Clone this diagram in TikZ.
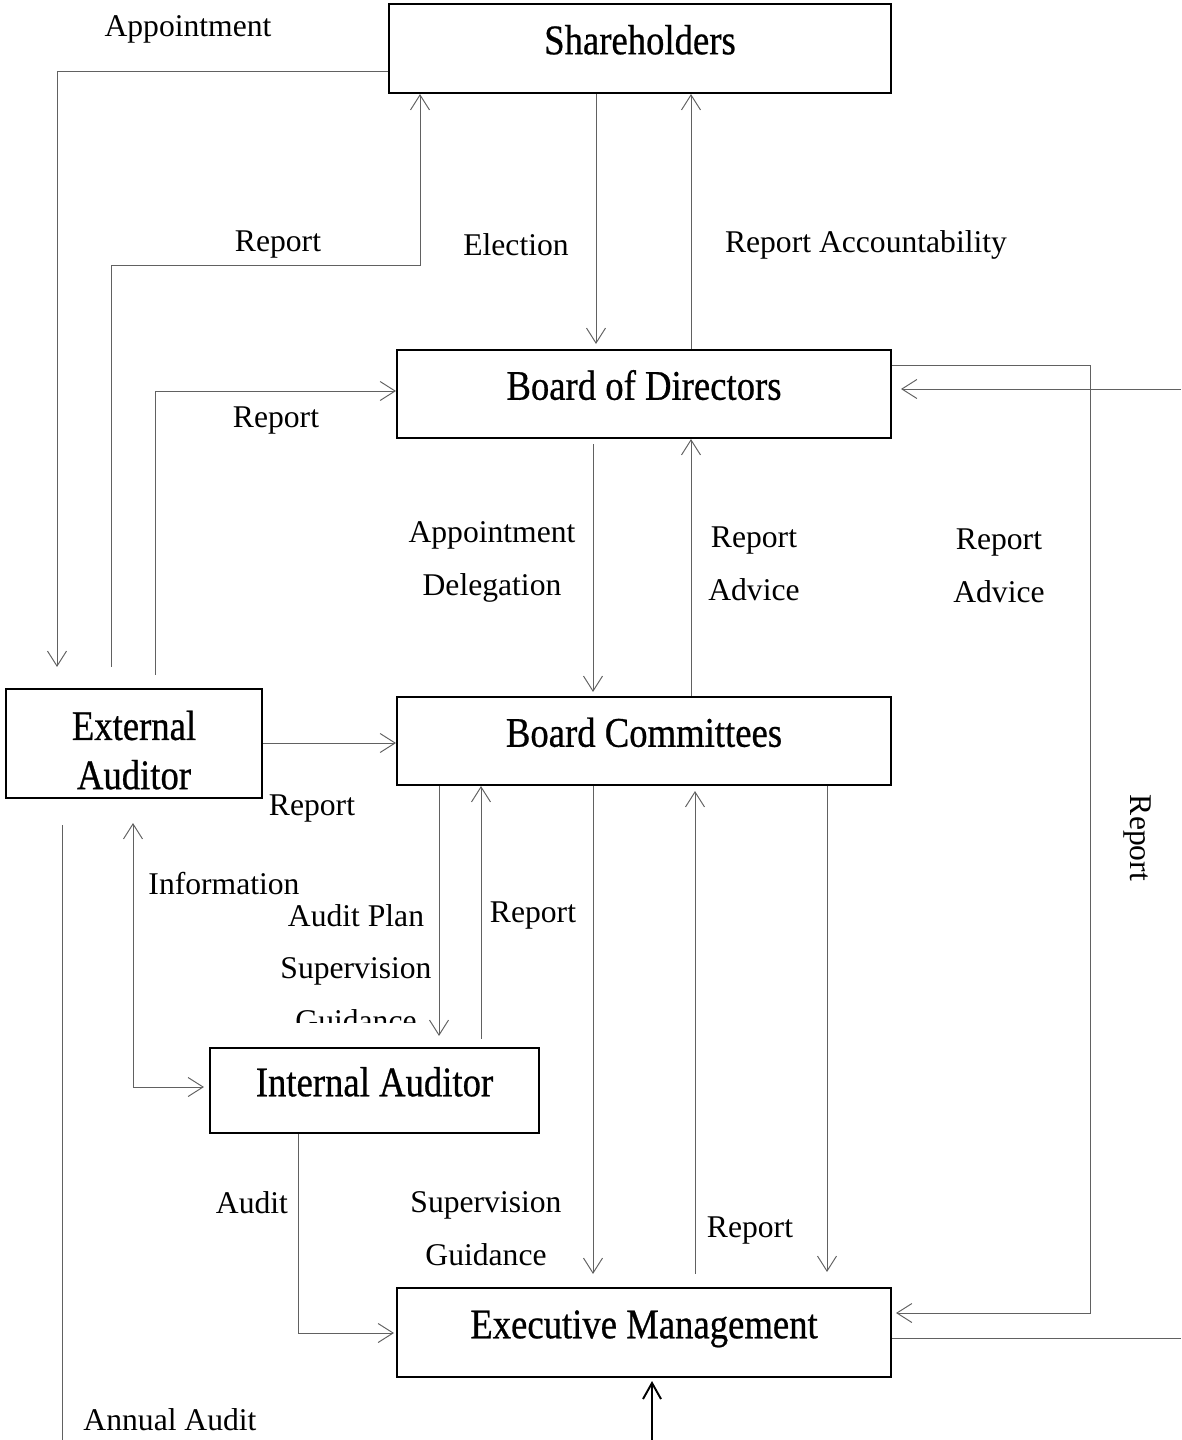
\documentclass[tikz,border=0pt]{standalone}
\usepackage{fontspec}
\setmainfont{Liberation Serif}
\newfontfamily\boxfont{Liberation Serif}[FakeBold=0.6, FakeStretch=0.87]
\usetikzlibrary{arrows.meta}
\tikzset{
  box/.style={draw, line width=1.2pt, inner sep=0pt, font=\fontsize{24}{28}\boxfont},
  raised/.style={text height=0.5cm, text depth=0.27cm},
  flow/.style={draw=black!62, line width=0.55pt, -{Straight Barb[length=0.3cm,width=0.38cm]}},
  bigflow/.style={draw=black, line width=1.1pt, -{Straight Barb[length=0.32cm,width=0.36cm]}},
  lbl/.style={font=\fontsize{18}{20}\selectfont, inner sep=0pt, yshift=-0.06cm}
}
\begin{document}
\begin{tikzpicture}[x=0.02cm, y=-0.02cm]
  \useasboundingbox (0,0) rectangle (1181,1440);
  % boxes
  \node[box, raised, minimum width=10.04cm, minimum height=1.78cm] (share) at (640,48.5) {Shareholders};
  \node[box, raised, minimum width=9.88cm, minimum height=1.76cm] (bod) at (644,394) {Board of Directors};
  \node[box, raised, minimum width=9.88cm, minimum height=1.76cm] (comm) at (644,741) {Board Committees};
  \node[box, minimum width=5.12cm, minimum height=2.18cm, align=center] (ext) at (134,743.5) {\rule{0pt}{0.85cm}External\\Auditor};
  \node[box, raised, minimum width=6.58cm, minimum height=1.7cm] (ia) at (374.5,1090.5) {Internal Auditor};
  \node[box, raised, minimum width=9.88cm, minimum height=1.78cm] (exec) at (644,1332.5) {Executive Management};
  % free ends at the edges
  \coordinate (edgeTop) at (1181,389);
  \coordinate (edgeBot) at (1181,1338);
  \coordinate (annTop) at (62,825);
  \coordinate (annBot) at (62,1440);
  \coordinate (mgmtIn) at (652,1440);
  % shareholders level
  \draw[flow, shorten >=0.42cm] (share.west |- 0,71) -| (ext.north -| 57,0);
  \draw[flow, shorten <=0.42cm] (ext.north -| 111,0) |- (420,265) -- (share.south -| 420,0);
  \draw[flow, shorten >=0.1cm] (share.south -| 596,0) -- (bod.north -| 596,0);
  \draw[flow] (bod.north -| 691,0) -- (share.south -| 691,0);
  \node[lbl] (tAppt) at (188,26) {Appointment};
  \node[lbl] (tRep1) at (278,242) {Report};
  \node[lbl] (tElec) at (516,242) {Election};
  \node[lbl] (tAcc) at (866,242) {Report Accountability};
  % board of directors level
  \draw[flow, shorten <=0.26cm] (ext.north -| 155,0) |- (bod.west |- 0,391);
  \draw[flow, shorten <=0.1cm, shorten >=0.08cm] (bod.south -| 593,0) -- (comm.north -| 593,0);
  \draw[flow] (comm.north -| 691,0) -- (bod.south -| 691,0);
  \draw[flow, shorten >=0.08cm] (bod.east |- 0,365) -| (1090,1313) -- (exec.east |- 0,1313);
  \draw[flow, shorten >=0.18cm] (edgeTop) -- (bod.east |- edgeTop);
  \draw[flow, -] (exec.east |- edgeBot) -- (edgeBot);
  \node[lbl] (tRep2) at (276,418) {Report};
  \node[lbl, align=center] (tDeleg) at (492,559) {Appointment\\[10pt]Delegation};
  \node[lbl, align=center] (tAdv1) at (754,561) {Report\\[10pt]Advice};
  \node[lbl, align=center] (tAdv2) at (999,563) {Report\\[10pt]Advice};
  \node[lbl, rotate=-90] (tRepR) at (1137,835) {Report};
  % committees level
  \draw[flow] (ext.east |- 0,743) -- (comm.west |- 0,743);
  \draw[flow, {Straight Barb[length=0.3cm,width=0.38cm]}-{Straight Barb[length=0.3cm,width=0.38cm]}, shorten <=0.48cm, shorten >=0.1cm] (ext.south -| 133,0) |- (ia.west |- 0,1087);
  \draw[flow, shorten >=0.22cm] (comm.south -| 439,0) -- (ia.north -| 439,0);
  \draw[flow, shorten <=0.16cm] (ia.north -| 481,0) -- (comm.south -| 481,0);
  \draw[flow, shorten >=0.26cm] (comm.south -| 593,0) -- (exec.north -| 593,0);
  \draw[flow, shorten <=0.26cm, shorten >=0.1cm] (exec.north -| 695,0) -- (comm.south -| 695,0);
  \draw[flow, shorten >=0.3cm] (comm.south -| 827,0) -- (exec.north -| 827,0);
  \node[lbl] (tRep3) at (312,806) {Report};
  \node[lbl] (tInfo) at (224,881) {Information};
  \begin{scope}
    \clip (250,890) rectangle (436,1022);
    \node[lbl, align=center] (tPlan) at (356,965) {Audit Plan\\[10pt]Supervision\\[10pt]Guidance};
  \end{scope}
  \node[lbl] (tRep4) at (533,913) {Report};
  % management level
  \draw[flow, shorten >=0.04cm] (ia.south -| 298,0) |- (exec.west |- 0,1333);
  \draw[flow, -] (annTop) -- (annBot);
  \draw[bigflow, shorten >=0.06cm] (mgmtIn) -- (exec.south -| mgmtIn);
  \node[lbl] (tAudit) at (252,1200) {Audit};
  \node[lbl, align=center] (tSup) at (486,1226) {Supervision\\[10pt]Guidance};
  \node[lbl] (tRep5) at (750,1227) {Report};
  \node[lbl] (tAnn) at (170,1417) {Annual Audit};
\end{tikzpicture}
\end{document}
